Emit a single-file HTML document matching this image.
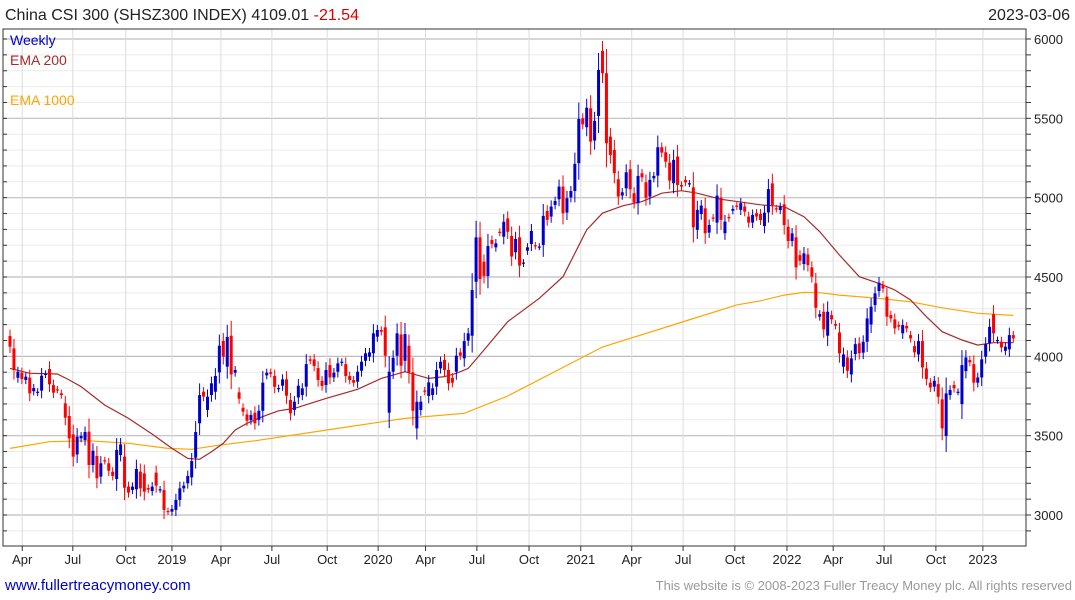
<!DOCTYPE html>
<html><head><meta charset="utf-8"><style>
html,body{margin:0;padding:0;background:#fff;}
svg{display:block;font-family:"Liberation Sans",sans-serif;}
</style></head><body>
<svg id="chart" width="1075" height="600" viewBox="0 0 1075 600">
<text x="5" y="20" font-size="16" fill="#222">China CSI 300 (SHSZ300 INDEX) 4109.01 <tspan fill="#e00000">-21.54</tspan></text>
<text x="1070" y="20" font-size="16" fill="#222" text-anchor="end">2023-03-06</text>
<g id="grid"></g>
<g id="emas"></g>
<g id="candles"></g>
<rect x="3" y="29" width="1023" height="517" fill="none" stroke="#333" stroke-width="1"/>
<g id="axes"></g>
<text x="10" y="45" font-size="14" fill="#0000cc">Weekly</text>
<text x="10" y="65" font-size="14" fill="#a52a2a">EMA 200</text>
<text x="10" y="105" font-size="14" fill="#ffa500">EMA 1000</text>
<text x="5" y="590" font-size="15" fill="#0000cc">www.fullertreacymoney.com</text>
<text x="1072" y="590" font-size="13" fill="#999" text-anchor="end">This website is © 2008-2023 Fuller Treacy Money plc. All rights reserved</text>
</svg>
<script>
const opens=[4128,4050,3865,3897,3851,3866,3780,3771,3784,3885,3920,3819,3792,3767,3704,3624,3508,3382,3483,3473,3525,3315,3372,3242,3345,3326,3273,3227,3378,3368,3179,3158,3162,3273,3263,3170,3151,3267,3160,3158,3025,3021,3032,3095,3168,3200,3237,3361,3578,3777,3662,3756,3777,3899,4097,3935,4130,3897,3773,3676,3634,3599,3645,3600,3657,3880,3900,3876,3795,3815,3855,3725,3662,3741,3756,3809,3981,3981,3926,3846,3819,3945,3867,3903,3960,3951,3876,3851,3840,3909,3972,3998,4019,4124,4166,4183,3645,3903,4004,4138,3972,4067,3899,3546,3662,3785,3750,3756,3809,3924,3977,3914,3865,3903,4025,3987,4099,4130,4470,4750,4596,4506,4733,4687,4785,4754,4869,4759,4656,4750,4585,4666,4708,4700,4690,4702,4916,4881,4954,4990,5070,4906,5002,5042,5217,5500,5444,5563,5360,5515,5925,5784,5385,5301,5116,5013,5059,5179,5028,4965,5154,5097,5007,5122,5139,5318,5286,5221,5091,5259,5080,5112,5088,5065,4797,4897,4933,4780,4875,4843,5000,4776,4878,4918,4950,4923,4944,4881,4843,4902,4897,4821,4907,5090,4933,4922,4958,4817,4727,4750,4638,4582,4642,4561,4460,4250,4281,4130,4260,4204,4151,3935,3993,3886,4014,4082,4023,4092,4201,4323,4411,4449,4376,4260,4233,4197,4145,4191,4134,4065,4012,4096,3924,3834,3809,3825,3729,3498,3756,3819,3775,3699,3907,3977,3951,3834,3867,3998,4082,4266,4100,4092,4035,4044,4134];
const closes=[4061,3914,3903,3857,3872,3767,3800,3777,3878,3890,3824,3771,3788,3756,3613,3483,3368,3494,3498,3523,3315,3405,3231,3326,3340,3279,3246,3410,3445,3172,3141,3179,3290,3168,3147,3160,3179,3185,3162,3032,3021,3038,3095,3168,3185,3246,3340,3523,3756,3746,3746,3830,3876,4067,3998,4122,3886,3914,3733,3651,3594,3630,3578,3657,3834,3897,3890,3808,3800,3855,3752,3641,3714,3815,3798,3951,3972,3939,3851,3813,3914,3867,3897,3956,3966,3876,3851,3834,3903,3966,4019,4025,4145,4166,4155,4004,3903,3991,4145,3941,4140,3899,3657,3714,3714,3777,3836,3798,3914,3966,3914,3830,3834,4004,4004,4096,4145,4418,4750,4487,4506,4695,4708,4712,4779,4848,4785,4629,4740,4572,4591,4687,4790,4695,4692,4885,4860,4944,4979,5070,4902,4996,5042,5213,5496,5462,5567,5353,5484,5805,5784,5343,5269,5154,5007,5034,5160,5053,4969,5137,5128,4999,5112,5137,5318,5284,5227,5107,5238,5080,5070,5097,5091,4813,4923,4950,4776,4828,4870,5013,4860,4849,4870,4929,4944,4965,4912,4843,4891,4881,4859,4905,5054,4953,4928,4943,4827,4727,4775,4561,4603,4649,4575,4502,4306,4266,4170,4281,4233,4193,4019,4012,3909,3987,4077,4019,4092,4239,4313,4397,4464,4428,4250,4239,4176,4187,4197,4176,4113,4025,4096,3930,3857,3804,3846,3745,3546,3766,3788,3798,3777,3945,3993,3962,3834,3867,3981,4077,4186,4145,4103,4056,4061,4134,4113];
const ema200Idx=[0,5,12,15,18,24,30,36,41,45,48,51,54,57,60,64,68,72,80,88,94,100,106,110,113,116,120,126,134,140,146,150,155,160,165,170,174,180,190,196,201,205,210,215,220,224,228,232,236,241,245,249,254];
const ema200Val=[3924,3893,3889,3851,3809,3693,3609,3510,3420,3357,3351,3399,3452,3536,3578,3620,3657,3672,3735,3792,3861,3903,3861,3872,3893,3924,4040,4218,4366,4502,4797,4902,4948,4975,5028,5044,5028,4990,4955,4943,4880,4785,4638,4502,4460,4418,4355,4250,4155,4103,4071,4086,4086];
const ema1000Idx=[0,10,20,30,40,46,52,60,62,80,100,115,126,150,171,184,190,196,201,205,210,220,228,236,245,254];
const ema1000Val=[3420,3462,3468,3452,3420,3414,3437,3462,3468,3535,3609,3641,3750,4059,4223,4324,4350,4386,4403,4401,4386,4365,4344,4306,4271,4258];
const yTicks=[3000,3500,4000,4500,5000,5500,6000];
const xTickIdx=[3.1,15.9,29.3,41.0,53.4,66.3,80.3,93.2,105.2,118.2,131.4,144.5,157.4,170.4,183.5,196.7,208.4,221.3,234.4,246.3];
const xTickLabels=["Apr","Jul","Oct","2019","Apr","Jul","Oct","2020","Apr","Jul","Oct","2021","Apr","Jul","Oct","2022","Apr","Jul","Oct","2023"];

const NS="http://www.w3.org/2000/svg";
function xs(i){return 10+i*3.95;}
function ys(v){return 39+(6000-v)*0.15867;}
function mk(tag,attrs,parent){const e=document.createElementNS(NS,tag);for(const k in attrs)e.setAttribute(k,attrs[k]);parent.appendChild(e);return e;}
const grid=document.getElementById('grid'),axes=document.getElementById('axes'),cg=document.getElementById('candles'),eg=document.getElementById('emas');

for(let v=2800;v<=6100;v+=100){
  const y=ys(v); if(y<29||y>546)continue;
  const major=v%500===0;
  const l=mk('line',{x1:3,x2:1026,y1:y,y2:y,stroke:major?'#bdbdbd':'#ebebeb','stroke-width':major?1.2:1},grid);
  
  
  const t=mk('line',{x1:1026,x2:1031,y1:y,y2:y,stroke:'#333'},axes);
  
  
  const t2=mk('line',{x1:3,x2:7,y1:y,y2:y,stroke:'#333'},axes);
  
  
}
yTicks.forEach(v=>{
  const t=mk('text',{x:1034,y:ys(v)+5,'font-size':13,fill:'#222'},axes);
  t.textContent=v;
  
  
});
xTickIdx.forEach((ix,k)=>{
  const x=xs(ix);
  const l=mk('line',{x1:x,x2:x,y1:29,y2:546,stroke:'#dcdcdc'},grid);
  
  
  const tk=mk('line',{x1:x,x2:x,y1:546,y2:551,stroke:'#333'},axes);
  
  
  const t=mk('text',{x:x,y:564,'font-size':13,fill:'#222','text-anchor':'middle'},axes);
  t.textContent=xTickLabels[k];
  
  
});

function line(idx,val,color,name){
  const d=idx.map((i,k)=>(k?'L':'M')+xs(i).toFixed(1)+' '+ys(val[k]).toFixed(1)).join(' ');
  const p=mk('path',{d:d,fill:'none',stroke:color,'stroke-width':1.2},eg);
  
  
}
line(ema1000Idx,ema1000Val,'#ffa500','ema-1000-line');
line(ema200Idx,ema200Val,'#a52a2a','ema-200-line');

closes.forEach((c,i)=>{
  const o=opens[i];
  const up=c>=o;
  const col=up?'#0000cc':'#ff0000';
  const body=Math.abs(c-o);
  const hi=Math.max(o,c)+20+body*0.3, lo=Math.min(o,c)-20-body*0.3;
  const x=xs(i);
  const w=mk('line',{x1:x,x2:x,y1:ys(hi),y2:ys(lo),stroke:col,'stroke-width':1},cg);
  
  
  const yt=ys(Math.max(o,c)),yb=ys(Math.min(o,c));
  const r=mk('rect',{x:x-1.5,y:yt,width:3,height:Math.max(1.2,yb-yt),fill:col},cg);
  
  
});
</script>
</body></html>
